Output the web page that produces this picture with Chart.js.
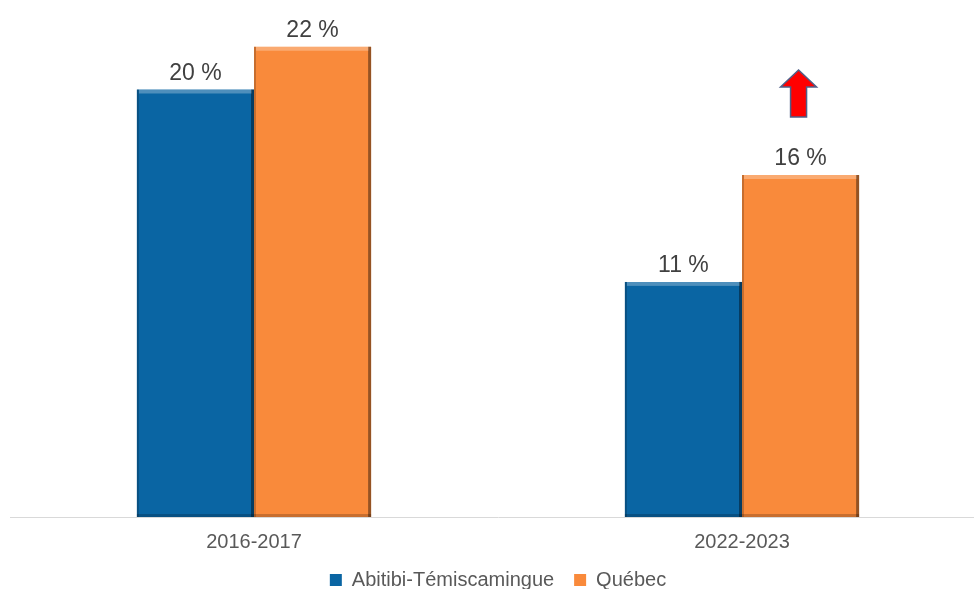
<!DOCTYPE html>
<html>
<head>
<meta charset="utf-8">
<script src="https://cdn.jsdelivr.net/npm/chart.js@4"></script>
<style>
  html, body { margin: 0; padding: 0; background: #fff; overflow: hidden; }
  #wrap { width: 986px; height: 589px; }
</style>
</head>
<body>
<div id="wrap"><canvas id="chart"></canvas></div>
<script>
const periods   = ['2016-2017', '2022-2023'];
const abitibi   = [20, 11];
const quebec    = [22, 16];
const seriesNames = ['Abitibi-Témiscamingue', 'Québec'];

const BLUE   = '#0A65A3';
const ORANGE = '#F98A3B';
const TEXT   = '#404040';
const LABEL  = '#595959';
const FONT   = '"Liberation Sans", Arial, sans-serif';

/* value labels "20 %" above each bar */
const valueLabels = {
  id: 'valueLabels',
  afterDatasetsDraw(chart) {
    const ctx = chart.ctx;
    ctx.save();
    ctx.font = '23px ' + FONT;
    ctx.fillStyle = TEXT;
    ctx.textAlign = 'center';
    ctx.textBaseline = 'alphabetic';
    chart.data.datasets.forEach((ds, di) => {
      chart.getDatasetMeta(di).data.forEach((bar, i) => {
        ctx.fillText(ds.data[i] + ' %', bar.x, bar.y - 10);
      });
    });
    ctx.restore();
  }
};

/* bevel-ish shading on bar edges */
const bevel = {
  id: 'bevel',
  afterDatasetDraw(chart, args) {
    const ctx = chart.ctx;
    args.meta.data.forEach(bar => {
      const l = bar.x - bar.width / 2, r = bar.x + bar.width / 2;
      const t = bar.y, b = bar.base;
      ctx.save();
      ctx.fillStyle = 'rgba(255,255,255,0.28)';
      ctx.fillRect(l + 2, t, r - l - 4, 4);
      ctx.fillStyle = 'rgba(0,0,0,0.40)';
      ctx.fillRect(r - 3, t, 3, b - t);
      ctx.fillStyle = 'rgba(0,0,0,0.20)';
      ctx.fillRect(l, t, 2, b - t);
      ctx.fillRect(l, b - 3, r - l, 3);
      ctx.restore();
    });
  }
};

/* red up arrow above the 2022-2023 Québec bar */
const upArrow = {
  id: 'upArrow',
  afterDraw(chart) {
    const bar = chart.getDatasetMeta(1).data[1];
    const cx = bar.x - 2, tip = bar.y - 105, neck = bar.y - 88, bottom = bar.y - 58;
    const ctx = chart.ctx;
    ctx.save();
    ctx.beginPath();
    ctx.moveTo(cx, tip);
    ctx.lineTo(cx + 18, neck);
    ctx.lineTo(cx + 8, neck);
    ctx.lineTo(cx + 8, bottom);
    ctx.lineTo(cx - 8, bottom);
    ctx.lineTo(cx - 8, neck);
    ctx.lineTo(cx - 18, neck);
    ctx.closePath();
    ctx.fillStyle = '#FF0000';
    ctx.fill();
    ctx.strokeStyle = '#4F5F88';
    ctx.lineWidth = 1.5;
    ctx.stroke();
    ctx.restore();
  }
};

/* pull the legend up to sit just under the category labels */
const legendShift = {
  id: 'legendShift',
  afterLayout(chart) {
    if (chart.legend) {
      chart.legend.top -= 17;
      chart.legend.bottom -= 17;
    }
  }
};

new Chart(document.getElementById('chart'), {
  type: 'bar',
  data: {
    labels: periods,
    datasets: [
      { label: seriesNames[0], data: abitibi, backgroundColor: BLUE, borderWidth: 0 },
      { label: seriesNames[1], data: quebec, backgroundColor: ORANGE, borderWidth: 0 },
    ],
  },
  options: {
    responsive: true,
    maintainAspectRatio: false,
    animation: false,
    layout: { padding: { left: 10, right: 0, top: 4, bottom: -28 } },
    datasets: { bar: { barPercentage: 1, categoryPercentage: 0.48 } },
    plugins: {
      legend: {
        position: 'bottom',
        labels: {
          boxWidth: 12, boxHeight: 12, padding: 20,
          color: LABEL,
          font: { size: 20, family: FONT },
        },
      },
      tooltip: { enabled: false },
    },
    scales: {
      x: {
        grid: { display: false, drawTicks: false },
        border: { display: true, color: '#D9D9D9', width: 1 },
        ticks: { color: LABEL, font: { size: 20, family: FONT }, padding: 13 },
      },
      y: {
        display: false,
        min: 0, max: 24,
      },
    },
  },
  plugins: [bevel, valueLabels, upArrow, legendShift],
});
</script>
</body>
</html>
